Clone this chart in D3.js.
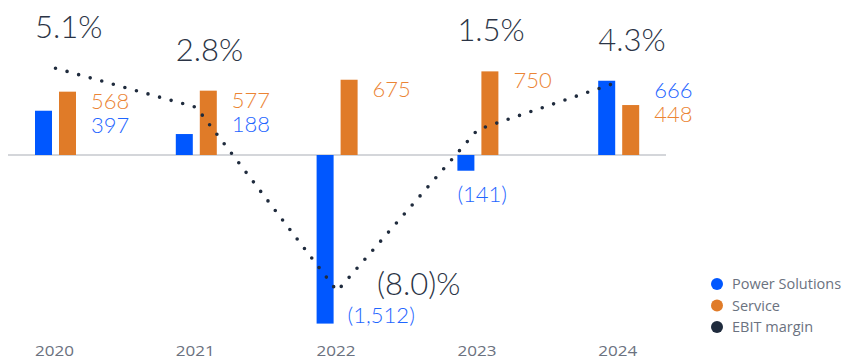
<!DOCTYPE html>
<html>
<head>
<meta charset="utf-8">
<script src="https://cdn.jsdelivr.net/npm/d3@7"></script>
<style>
  html, body { margin: 0; padding: 0; background: #fff; }
  svg { display: block; font-family: "Open Sans", "Noto Sans", sans-serif; }
  .light { font-family: Lato, "Open Sans", sans-serif; font-weight: 300; }
</style>
</head>
<body>
<svg id="chart" width="847" height="361"></svg>
<script>
// Segment results and EBIT margin by year
const years = ["2020", "2021", "2022", "2023", "2024"];
const powerSolutions = [397, 188, -1512, -141, 666];
const service = [568, 577, 675, 750, 448];
const ebitMargin = [5.1, 2.8, -8.0, 1.5, 4.3];
const marginLabels = ["5.1%", "2.8%", "(8.0)%", "1.5%", "4.3%"];
const legendLabels = ["Power Solutions", "Service", "EBIT margin"];

// where a negative bar's label sits: beside the bar end or under the bar
const negLabelPlace = ["side", "side", "side", "below", "side"];

const COLORS = { blue: "#0057ff", orange: "#e07b28", dark: "#1f2b3d", grey: "#6b7280", axis: "#a9adb5" };
const fmt = v => v < 0 ? "(" + d3.format(",")(-v) + ")" : d3.format(",")(v);

const svg = d3.select("#chart");

const x = d3.scaleBand().domain(years).range([22, 726]).paddingInner(0).paddingOuter(0);
const barW = 17, gap = 7;
const groupLeft = y => x(y) + 13; // left edge of the first bar in each group
const groupCenter = y => groupLeft(y) + barW + gap / 2;

const yBar = d3.scaleLinear().domain([-1600, 800]).range([155 + 1600 * 0.1115, 155 - 800 * 0.1115]);
const yMargin = d3.scaleLinear().domain([-9, 6]).range([155 + 9 * 17.02, 155 - 6 * 17.02]);

// zero line
svg.append("line")
  .attr("x1", 8).attr("x2", 666)
  .attr("y1", yBar(0)).attr("y2", yBar(0))
  .attr("stroke", COLORS.axis).attr("stroke-width", 1.2);

const rows = years.map((yr, i) => ({ yr, i, ps: powerSolutions[i], sv: service[i], m: ebitMargin[i] }));

// bars
const g = svg.append("g");
g.selectAll("rect.ps").data(rows).join("rect")
  .attr("x", d => groupLeft(d.yr)).attr("width", barW)
  .attr("y", d => yBar(Math.max(0, d.ps)))
  .attr("height", d => Math.abs(yBar(d.ps) - yBar(0)))
  .attr("fill", COLORS.blue);
g.selectAll("rect.sv").data(rows).join("rect")
  .attr("x", d => groupLeft(d.yr) + barW + gap).attr("width", barW)
  .attr("y", d => yBar(Math.max(0, d.sv)))
  .attr("height", d => Math.abs(yBar(d.sv) - yBar(0)))
  .attr("fill", COLORS.orange);

// value labels
const labels = svg.append("g").attr("class", "light").attr("font-size", 22);
rows.forEach(d => {
  const sideX = groupLeft(d.yr) + 2 * barW + gap + 15;
  const pos = [{ v: d.ps, c: "#1f66ff" }, { v: d.sv, c: "#eb8434" }]
    .filter(p => p.v >= 0).sort((a, b) => b.v - a.v);
  const top = yBar(pos.length ? pos[0].v : 0);
  pos.forEach((p, k) => {
    labels.append("text").attr("x", sideX).attr("y", top + 17 + k * 24)
      .attr("fill", p.c).text(fmt(p.v));
  });
  [{ v: d.ps, c: "#1f66ff" }, { v: d.sv, c: "#eb8434" }].filter(p => p.v < 0).forEach(p => {
    if (negLabelPlace[d.i] === "below") {
      labels.append("text").attr("x", groupLeft(d.yr)).attr("y", yBar(p.v) + 31)
        .attr("fill", p.c).text(fmt(p.v));
    } else {
      labels.append("text").attr("x", groupLeft(d.yr) + barW + 14).attr("y", yBar(p.v) - 1)
        .attr("fill", p.c).text(fmt(p.v));
    }
  });
});

// EBIT margin dotted line
const line = d3.line().x(d => groupCenter(d.yr)).y(d => yMargin(d.m));
svg.append("path").datum(rows)
  .attr("d", line)
  .attr("fill", "none")
  .attr("stroke", COLORS.dark)
  .attr("stroke-width", 3.6)
  .attr("stroke-linecap", "round")
  .attr("stroke-dasharray", "0 12");

// margin labels
const ml = svg.append("g").attr("class", "light").attr("font-size", 31).attr("fill", "#2b3445");
rows.forEach(d => {
  if (d.m < 0) {
    ml.append("text").attr("x", groupCenter(d.yr) + 40).attr("y", yMargin(d.m) + 4).text(marginLabels[d.i]);
  } else {
    const top = Math.min(yBar(Math.max(d.ps, d.sv)), yMargin(d.m));
    ml.append("text").attr("x", groupLeft(d.yr)).attr("y", top - 30).text(marginLabels[d.i]);
  }
});

// year labels
svg.append("g").attr("font-size", 14.5).attr("fill", COLORS.grey)
  .selectAll("text").data(years).join("text")
  .attr("x", d => groupLeft(d)).attr("y", 356)
  .attr("textLength", 39).attr("lengthAdjust", "spacingAndGlyphs")
  .text(d => d);

// legend
const legendColors = [COLORS.blue, COLORS.orange, COLORS.dark];
const lg = svg.append("g").attr("transform", "translate(717,284)");
legendLabels.forEach((t, i) => {
  lg.append("circle").attr("cx", 0).attr("cy", i * 21.5).attr("r", 6).attr("fill", legendColors[i]);
  lg.append("text").attr("x", 15).attr("y", i * 21.5 + 5).attr("font-size", 14.5)
    .attr("fill", COLORS.grey).text(t);
});
</script>
</body>
</html>
